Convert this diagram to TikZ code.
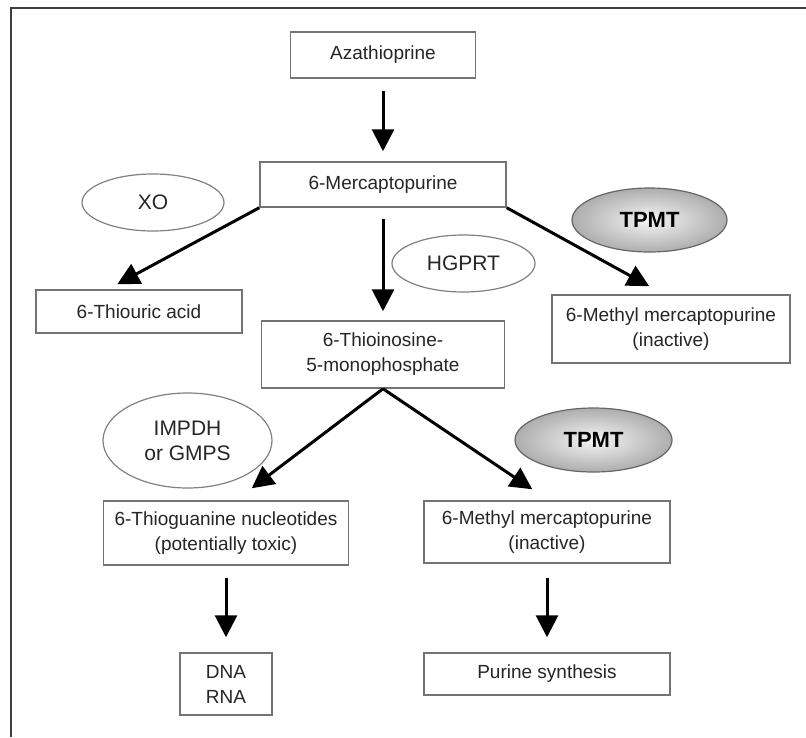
\documentclass[tikz,border=0pt]{standalone}
\usepackage{fontspec}
\setmainfont{Liberation Sans}
\usepackage{tikz}
\usetikzlibrary{shapes.geometric,arrows.meta}

\begin{document}
\begin{tikzpicture}[x=1pt,y=-1pt,
		box/.style={draw=black!55,line width=1.5pt,fill=white,text=black!85,align=center,inner sep=0pt,font=\fontsize{19}{25}\selectfont},
		enz/.style={ellipse,draw=black!50,line width=1.2pt,text=black!85,align=center,inner sep=0pt,font=\fontsize{21}{25}\selectfont},
		tpmt/.style={enz,draw=black!60,inner color=black!4,outer color=black!32,text=black,font=\fontsize{22}{26}\selectfont\bfseries},
		flow/.style={-{Triangle[width=22pt,length=22pt]},line width=3pt}]
		\useasboundingbox (0,0) rectangle (806,737);
		\draw[black!75,line width=2pt] (806,8) -- (11,8) -- (11,737);
		
		\node[box,minimum width=185pt,minimum height=46pt] (aza) at (383,55) {Azathioprine};
		\node[box,minimum width=246pt,minimum height=45pt] (mp) at (383,184.5) {6-Mercaptopurine};
		\node[enz,minimum width=142pt,minimum height=57pt] (xo) at (153,202.5) {XO};
		\node[tpmt,minimum width=155pt,minimum height=64pt] (tpmtA) at (649.5,220) {TPMT};
		\node[box,minimum width=206pt,minimum height=43pt] (thiouric) at (139,311.5) {6-Thiouric acid};
		\node[enz,minimum width=143pt,minimum height=57pt] (hgprt) at (463.5,263.5) {HGPRT};
		\node[box,minimum width=243pt,minimum height=67pt] (timp) at (383,354.5) {6-Thioinosine-\\5-monophosphate};
		\node[box,minimum width=238pt,minimum height=68pt] (mmpA) at (671,329) {6-Methyl mercaptopurine\\(inactive)};
		\node[enz,minimum width=169pt,minimum height=95pt] (impdh) at (187.5,440.5) {IMPDH\\or GMPS};
		\node[tpmt,minimum width=157pt,minimum height=64pt] (tpmtB) at (593.5,440) {TPMT};
		\node[box,minimum width=245pt,minimum height=64pt] (tgn) at (226,533) {6-Thioguanine nucleotides\\(potentially toxic)};
		\node[box,minimum width=246pt,minimum height=62pt] (mmpB) at (547,532) {6-Methyl mercaptopurine\\(inactive)};
		\node[box,minimum width=92pt,minimum height=62pt] (dna) at (226,684) {DNA\\RNA};
		\node[box,minimum width=246pt,minimum height=42pt] (purine) at (547,674) {Purine synthesis};
		
		\path[flow]
		(aza.south) edge[shorten <=12pt,shorten >=10pt] (mp.north)
		(mp.south west) edge ([xshift=82pt,yshift=5pt]thiouric.north west)
		(mp.south) edge[shorten <=11pt,shorten >=9pt] (timp.north)
		(mp.south east) edge ([xshift=98pt,yshift=8pt]mmpA.north west)
		(timp.south) edge ([xshift=149pt,yshift=12pt]tgn.north west)
		(timp.south) edge ([xshift=109pt,yshift=11pt]mmpB.north west)
		(tgn.south) edge[shorten <=12pt,shorten >=15pt] (dna.north)
		(mmpB.south) edge[shorten <=14pt,shorten >=15pt] (purine.north);
\end{tikzpicture}
\end{document}
